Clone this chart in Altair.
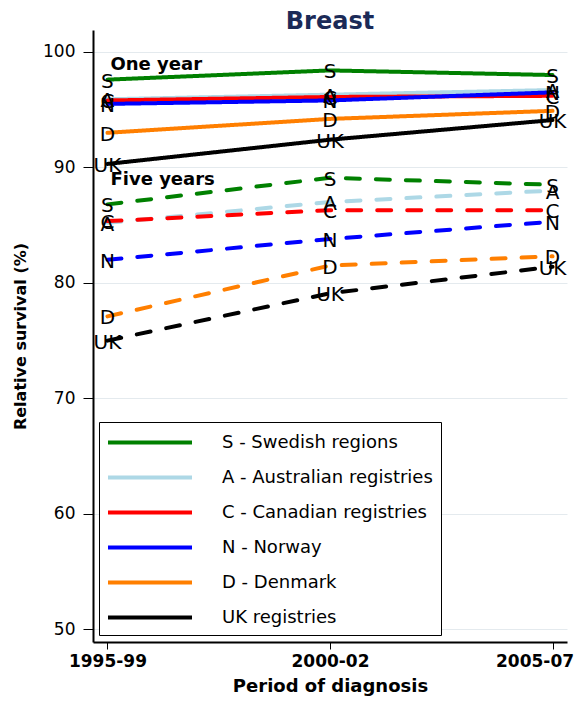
import altair as alt
import pandas as pd

periods = ["1995-99", "2000-02", "2005-07"]
codes = ["S", "A", "C", "N", "D", "UK"]
names = ["S - Swedish regions", "A - Australian registries", "C - Canadian registries",
         "N - Norway", "D - Denmark", "UK registries"]
colors = ["#008000", "#add8e6", "#ff0000", "#0000ff", "#ff7f00", "#000000"]
measures = ["One year", "Five years"]

one_S = [97.6, 98.4, 98.0]
one_A = [95.9, 96.3, 96.7]
one_C = [95.8, 96.1, 96.2]
one_N = [95.5, 95.8, 96.5]
one_D = [93.0, 94.2, 94.9]
one_UK = [90.3, 92.4, 94.1]

five_S = [86.8, 89.1, 88.5]
five_A = [85.2, 87.0, 88.0]
five_C = [85.35, 86.3, 86.3]
five_N = [82.0, 83.8, 85.3]
five_D = [77.1, 81.5, 82.3]
five_UK = [75.0, 79.1, 81.4]

annot_text = ["One year", "Five years"]
annot_y = [98.9, 88.9]

one_year = [one_S, one_A, one_C, one_N, one_D, one_UK]
five_year = [five_S, five_A, five_C, five_N, five_D, five_UK]

rows = []
for measure, series in (("Five years", five_year), ("One year", one_year)):
    for code, name, vals in zip(codes, names, series):
        for p, v in zip(periods, vals):
            rows.append({"code": code, "name": name, "measure": measure,
                         "period": p, "value": v})
df = pd.DataFrame(rows)
annot = pd.DataFrame({"text": annot_text, "value": annot_y, "period": [periods[0]] * 2})

FONT = "DejaVu Sans"

x_enc = alt.X("period:O", sort=periods,
              scale=alt.Scale(type="point", domain=periods, padding=0.065),
              axis=alt.Axis(title="Period of diagnosis", labelAngle=0, tickSize=7,
                            labelPadding=4, labelFontWeight="bold", labelFontSize=17,
                            labelOffset={"condition": {"test": "datum.label == '2005-07'",
                                                       "value": -18}, "value": 0},
                            titleFontSize=18, titleFontWeight="bold", titlePadding=8,
                            grid=False))
y_enc = alt.Y("value:Q",
              scale=alt.Scale(domain=[48.9, 101.9], nice=False, zero=False),
              axis=alt.Axis(title="Relative survival (%)", values=[50, 60, 70, 80, 90, 100],
                            tickSize=10, labelPadding=8, labelFontSize=17,
                            titleFontSize=16, titleFontWeight="bold", titlePadding=14,
                            grid=True))

lines = alt.Chart(df).mark_line(strokeWidth=4, strokeCap="round").encode(
    x=x_enc,
    y=y_enc,
    color=alt.Color("name:N", scale=alt.Scale(domain=names, range=colors),
                    legend=alt.Legend(title=None, orient="none", legendX=6, legendY=392,
                                      symbolType="M-4,0H4", symbolSize=441,
                                      symbolStrokeWidth=4, symbolOffset=30.5,
                                      labelFont=FONT, labelFontSize=18, labelColor="black",
                                      labelLimit=400,
                                      strokeColor="black", padding=8,
                                      rowPadding=13, labelOffset=59.5, fillColor="white")),
    strokeDash=alt.StrokeDash("measure:N", scale=alt.Scale(domain=measures,
                              range=[[1, 0], [14, 16]]), legend=None),
)

labels = alt.Chart(df).mark_text(font=FONT, fontSize=20, baseline="middle", dy=2,
                                 color="black").encode(
    x=alt.X("period:O", sort=periods),
    y="value:Q",
    text="code:N",
)

notes = alt.Chart(annot).mark_text(font=FONT, fontSize=18, fontWeight="bold", align="left",
                                   baseline="middle", dx=3, color="black").encode(
    x=alt.X("period:O", sort=periods),
    y="value:Q",
    text="text:N",
)

chart = alt.layer(lines, labels, notes).properties(
    width=474, height=612,
    background="white",
    title=alt.Title("Breast", font=FONT, fontSize=24, fontWeight="bold",
                    color="#1b2a57", anchor="middle", offset=-4),
    autosize=alt.AutoSizeParams(type="none"),
    padding={"left": 85, "top": 22, "right": 7, "bottom": 65},
).configure_view(stroke=None).configure_axis(
    labelFont=FONT, titleFont=FONT, labelColor="black", titleColor="black",
    domainColor="black", domainWidth=2, tickColor="black", tickWidth=1,
    gridColor="#e4eaee", gridWidth=1,
)

chart.save("out.html", embed_options={"renderer": "svg", "actions": False})
